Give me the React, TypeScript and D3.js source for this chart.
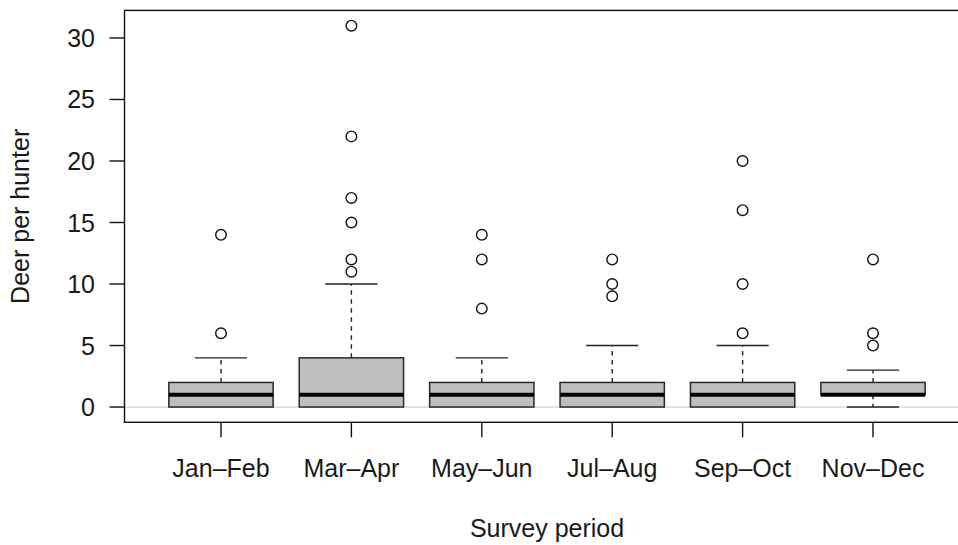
import * as d3 from "d3";

// survey periods and the five-number summaries
const periods = ["Jan–Feb", "Mar–Apr", "May–Jun", "Jul–Aug", "Sep–Oct", "Nov–Dec"];
const lowerWhisker = [0, 0, 0, 0, 0, 0];
const q1 = [0, 0, 0, 0, 0, 1];
const median = [1, 1, 1, 1, 1, 1];
const q3 = [2, 4, 2, 2, 2, 2];
const upperWhisker = [4, 10, 4, 5, 5, 3];
const outliers = [
  [6, 14],
  [11, 12, 15, 17, 22, 31],
  [8, 12, 14],
  [9, 10, 12],
  [6, 10, 16, 20],
  [5, 6, 12],
];
const yTicks = [0, 5, 10, 15, 20, 25, 30];

const W = 958;
const H = 545;
const font = "'Liberation Sans', Arial, sans-serif";

export default function App() {
  const x = d3.scaleLinear().domain([0.26, 6.74]).range([124.5, 969.5]);
  const y = d3.scaleLinear().domain([-1.24, 32.24]).range([422.3, 10.4]);
  const [x0, x1] = x.range();
  const [yb, yt] = y.range();
  const boxHalf = x(1.4) - x(1);
  const capHalf = x(1.2) - x(1);

  return (
    <svg
      width={W}
      height={H}
      style={{ position: "absolute", left: 0, top: 0, background: "#fff" }}
      fontFamily={font}
    >
      {/* zero reference line */}
      <line x1={x0} x2={x1} y1={y(0)} y2={y(0)} stroke="#d4d4d4" strokeWidth={1.2} />

      {periods.map((p, i) => {
        const cx = x(i + 1);
        return (
          <g key={p}>
            {upperWhisker[i] > q3[i] && (
              <line x1={cx} x2={cx} y1={y(q3[i])} y2={y(upperWhisker[i])}
                stroke="#222" strokeWidth={1.4} strokeDasharray="4.5,4.5" />
            )}
            {lowerWhisker[i] < q1[i] && (
              <line x1={cx} x2={cx} y1={y(q1[i])} y2={y(lowerWhisker[i])}
                stroke="#222" strokeWidth={1.4} strokeDasharray="4.5,4.5" />
            )}
            <line x1={cx - capHalf} x2={cx + capHalf} y1={y(upperWhisker[i])} y2={y(upperWhisker[i])}
              stroke="#222" strokeWidth={1.4} />
            {lowerWhisker[i] < q1[i] && (
              <line x1={cx - capHalf} x2={cx + capHalf} y1={y(lowerWhisker[i])} y2={y(lowerWhisker[i])}
                stroke="#222" strokeWidth={1.4} />
            )}
            <rect x={cx - boxHalf} width={boxHalf * 2} y={y(q3[i])} height={y(q1[i]) - y(q3[i])}
              fill="#bebebe" stroke="#2a2a2a" strokeWidth={1.5} />
            <line x1={cx - boxHalf} x2={cx + boxHalf} y1={y(median[i])} y2={y(median[i])}
              stroke="#000" strokeWidth={4.2} />
            {outliers[i].map((v, j) => (
              <circle key={j} cx={cx} cy={y(v)} r={5.3} fill="none" stroke="#111" strokeWidth={1.4} />
            ))}
          </g>
        );
      })}

      {/* frame */}
      <rect x={x0} y={yt} width={x1 - x0} height={yb - yt} fill="none" stroke="#111" strokeWidth={1.4} />

      {/* y axis */}
      {yTicks.map((t) => (
        <g key={t}>
          <line x1={x0 - 15} x2={x0} y1={y(t)} y2={y(t)} stroke="#111" strokeWidth={1.4} />
          <text x={95} y={y(t)} dy="0.36em" textAnchor="end" fontSize={25} fill="#1a1a1a">
            {t}
          </text>
        </g>
      ))}

      {/* x axis */}
      {periods.map((p, i) => (
        <g key={p}>
          <line x1={x(i + 1)} x2={x(i + 1)} y1={yb} y2={yb + 15} stroke="#111" strokeWidth={1.4} />
          <text x={x(i + 1)} y={477} textAnchor="middle" fontSize={25} fill="#1a1a1a">
            {p}
          </text>
        </g>
      ))}

      <text x={(x0 + x1) / 2} y={537} textAnchor="middle" fontSize={25} fill="#1a1a1a">
        Survey period
      </text>
      <text transform={`translate(29, ${(yt + yb) / 2}) rotate(-90)`} textAnchor="middle" fontSize={25} fill="#1a1a1a">
        Deer per hunter
      </text>
    </svg>
  );
}
